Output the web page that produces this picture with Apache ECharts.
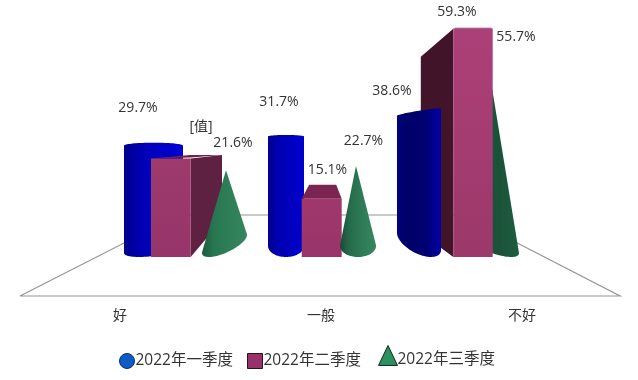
<!DOCTYPE html>
<html>
<head>
<meta charset="utf-8">
<style>
html, body { margin: 0; background: #fff; }
#chart { width: 638px; height: 380px; }
</style>
<script src="https://cdn.jsdelivr.net/npm/echarts@6/dist/echarts.min.js"></script>
</head>
<body>
<div id="chart"></div>
<script>
var categories = ['好', '一般', '不好'];
var seriesNames = ['2022年一季度', '2022年二季度', '2022年三季度'];
var q1Values = [29.7, 31.7, 38.6];
var q2Values = [25.6, 15.1, 59.3];
var q3Values = [21.6, 22.7, 55.7];
var q2Labels = ['[值]', '15.1%', '59.3%'];

var FONT = '14px "Open Sans", "Noto Sans CJK SC", sans-serif';
var TEXT = '#333333';

// 每个图形相对于类目中心的透视参数（像素）
var cylinders = [
    { cx: 33.5, rx: 29.5, topRy: 3, topShear: 0, botRy: 6.9, botShear: -0.136, z: 1, lx: -15.5, ly: -34.7,
      stops: ['#00008c', '#0000b0', '#0000c8', '#0000d4'] },
    { cx: -35, rx: 18, topRy: 1.5, topShear: 0, botRy: 11, botShear: 0, z: 1, lx: -7, ly: -33,
      stops: ['#00008c', '#0000b0', '#0000c0', '#0000cc'] },
    { cx: -103, rx: 22, topRy: 1.5, topShear: -0.16, botRy: 13, botShear: 0.386, z: 3, lx: -27, ly: -17.4,
      stops: ['#00007c', '#000068', '#000072', '#0000a8'] }
];
var boxes = [
    { x: 31, w: 39.7, z: 2, lx: 50, ly: -31.4, topFace: [0, 0, 39.7, -1, 71, -3.5, 39, -3.5], side: [39.7, 71, -3.5, -37],
      front: ['#9e3a6c', '#96356a'], topColor: '#6c2449', sideColor: '#5f2142' },
    { x: -19.3, w: 40, z: 2, lx: 25.8, ly: -28.9, topFace: [0, 0, 40, 0, 34.5, -14, 7.5, -14], side: null,
      front: ['#a0386c', '#98346a'], topColor: '#7a2452', sideColor: '#7a2452' },
    { x: -68.7, w: 39.4, z: 2, lx: 3.7, ly: -16.7, topFace: [0, 0, 39.4, 0, 38, -1, 2, -1], side: [0, -32.5, 28, -24],
      front: ['#ac4078', '#9c386a'], topColor: '#8a3060', sideColor: '#42142a' }
];
var cones = [
    { cx: 104.5, rx: 22.5, ry: 9.4, shear: -0.4, apex: 1.5, z: 3, lx: 8.5, ly: -27.3,
      stops: ['#1c5a3e', '#277650', '#2f8058', '#358660'] },
    { cx: 37, rx: 18, ry: 11, shear: 0, apex: -2, z: 3, lx: 5.5, ly: -25.1,
      stops: ['#1a4a36', '#256a4a', '#2f7d58', '#36865e'] },
    { cx: -33, rx: 30, ry: 10, shear: 0.367, apex: -5, z: 1, lx: 27, ly: -2.1,
      stops: ['#1a4e36', '#1c5a3e', '#1a5238', '#1d5e40'] }
];

function hGradient(stops) {
    return new echarts.graphic.LinearGradient(0, 0, 1, 0, [
        { offset: 0, color: stops[0] },
        { offset: 0.25, color: stops[1] },
        { offset: 0.65, color: stops[2] },
        { offset: 1, color: stops[3] }
    ]);
}

function labelEl(text, x, y) {
    return {
        type: 'text',
        z2: 10,
        style: { x: x, y: y, text: text, fill: TEXT, font: FONT, align: 'center', verticalAlign: 'middle' }
    };
}

// 椭圆的最低点偏移
function reach(ry, shear, rx) {
    return Math.sqrt(ry * ry + shear * rx * shear * rx);
}

function renderCylinder(params, api) {
    var i = api.value(0);
    var g = cylinders[i];
    var cx = api.coord([i, 0])[0] + g.cx;
    var base = api.coord([i, 0])[1];
    var top = api.coord([i, api.value(1)])[1];
    var topC = top + reach(g.topRy, g.topShear, g.rx);
    var botC = base - reach(g.botRy, g.botShear, g.rx);
    var pts = [];
    var n = 40, k, t;
    for (k = 0; k <= n; k++) {
        t = Math.PI + Math.PI * k / n;
        pts.push([cx + g.rx * Math.cos(t), topC + g.topRy * Math.sin(t) + g.topShear * g.rx * Math.cos(t)]);
    }
    for (k = 0; k <= n; k++) {
        t = Math.PI * k / n;
        pts.push([cx + g.rx * Math.cos(t), botC + g.botRy * Math.sin(t) + g.botShear * g.rx * Math.cos(t)]);
    }
    return {
        type: 'group',
        children: [
            { type: 'polygon', z2: g.z, shape: { points: pts }, style: { fill: hGradient(g.stops) } },
            labelEl(api.value(1) + '%', cx + g.lx, top + g.ly)
        ]
    };
}

function renderBox(params, api) {
    var i = api.value(0);
    var g = boxes[i];
    var left = api.coord([i, 0])[0] + g.x;
    var base = api.coord([i, 0])[1];
    var top = api.coord([i, api.value(1)])[1];
    var children = [];
    var f = g.topFace;
    children.push({
        type: 'polygon', z2: g.z,
        shape: { points: [[left + f[0], top + f[1]], [left + f[2], top + f[3]], [left + f[4], top + f[5]], [left + f[6], top + f[7]]] },
        style: { fill: g.topColor }
    });
    if (g.side) {
        var s = g.side;
        children.push({
            type: 'polygon', z2: g.z,
            shape: { points: [[left + s[0], top], [left + s[1], top + s[2]], [left + s[1], base + s[3]], [left + s[0], base]] },
            style: { fill: g.sideColor }
        });
    }
    children.push({
        type: 'rect', z2: g.z,
        shape: { x: left, y: top, width: g.w, height: base - top },
        style: { fill: new echarts.graphic.LinearGradient(0, 0, 0, 1, [
            { offset: 0, color: g.front[0] },
            { offset: 1, color: g.front[1] }
        ]) }
    });
    children.push(labelEl(q2Labels[i], left + g.lx, top + g.ly));
    return { type: 'group', children: children };
}

function renderCone(params, api) {
    var i = api.value(0);
    var g = cones[i];
    var cx = api.coord([i, 0])[0] + g.cx;
    var base = api.coord([i, 0])[1];
    var top = api.coord([i, api.value(1)])[1] - 3.5;
    var sx = g.shear * g.rx;
    var cy = base - reach(g.ry, g.shear, g.rx);
    var ax = cx + g.apex;
    var pts = [[ax, top]];
    var n = 90;
    for (var k = 0; k <= n; k++) {
        var t = -Math.PI / 2 + 2 * Math.PI * k / n;
        var px = cx + g.rx * Math.cos(t);
        var py = cy + g.ry * Math.sin(t) + sx * Math.cos(t);
        var dx = -g.rx * Math.sin(t);
        var dy = g.ry * Math.cos(t) - sx * Math.sin(t);
        if ((px - ax) * dy - (py - top) * dx > 0) {
            pts.push([px, py]);
        }
    }
    return {
        type: 'group',
        children: [
            { type: 'polygon', z2: g.z, shape: { points: pts }, style: { fill: hGradient(g.stops) } },
            labelEl(api.value(1) + '%', cx + g.lx, top + g.ly)
        ]
    };
}

function toData(values) {
    return values.map(function (v, i) { return [i, v]; });
}

function legendItem(idx, left, top, size, icon, fill, border, pad) {
    return {
        left: left, top: top, padding: 0,
        itemWidth: size[0], itemHeight: size[1],
        selectedMode: false,
        data: [{ name: seriesNames[idx], icon: icon }],
        itemStyle: { color: fill, borderColor: border, borderWidth: 1 },
        textStyle: { color: TEXT, fontSize: 15.5, fontFamily: '"Open Sans", "Noto Sans CJK SC", sans-serif', padding: pad }
    };
}

var chart = echarts.init(document.getElementById('chart'));
chart.setOption({
    animation: false,
    backgroundColor: '#fff',
    grid: { left: 19.5, width: 603, top: 26, height: 231 },
    xAxis: {
        type: 'category',
        data: categories,
        axisLine: { show: false },
        axisTick: { show: false },
        axisLabel: { margin: 51, fontSize: 14, color: TEXT, fontFamily: '"Noto Sans CJK SC", sans-serif' }
    },
    yAxis: { type: 'value', min: 0, max: 60, show: false },
    legend: [
        legendItem(0, 119, 353, [15, 15], 'circle', '#0b5cc8', '#10305c', [0, 0, 0, -4]),
        legendItem(1, 247, 353, [15, 15], 'rect', '#98306a', '#2c1020', [0, 0, 0, -4]),
        // 三角形比文字高，路径里多一个落点把图标框撑到文字中线对称
        legendItem(2, 378, 345, [19, 30], 'path://M10,0L20,21L0,21ZM10,30', '#2e8f5f', '#0c2a1c', [0, 0, 0, -5])
    ],
    graphic: [{
        type: 'polyline',
        z: 0,
        shape: { points: [[20, 296], [179, 215], [463, 215], [620, 296], [20, 296]] },
        style: { stroke: '#969696', lineWidth: 1.2, fill: null }
    }],
    series: [
        { name: seriesNames[0], type: 'custom', data: toData(q1Values), encode: { x: 0, y: 1 }, renderItem: renderCylinder },
        { name: seriesNames[1], type: 'custom', data: toData(q2Values), encode: { x: 0, y: 1 }, renderItem: renderBox },
        { name: seriesNames[2], type: 'custom', data: toData(q3Values), encode: { x: 0, y: 1 }, renderItem: renderCone }
    ]
});
</script>
</body>
</html>
